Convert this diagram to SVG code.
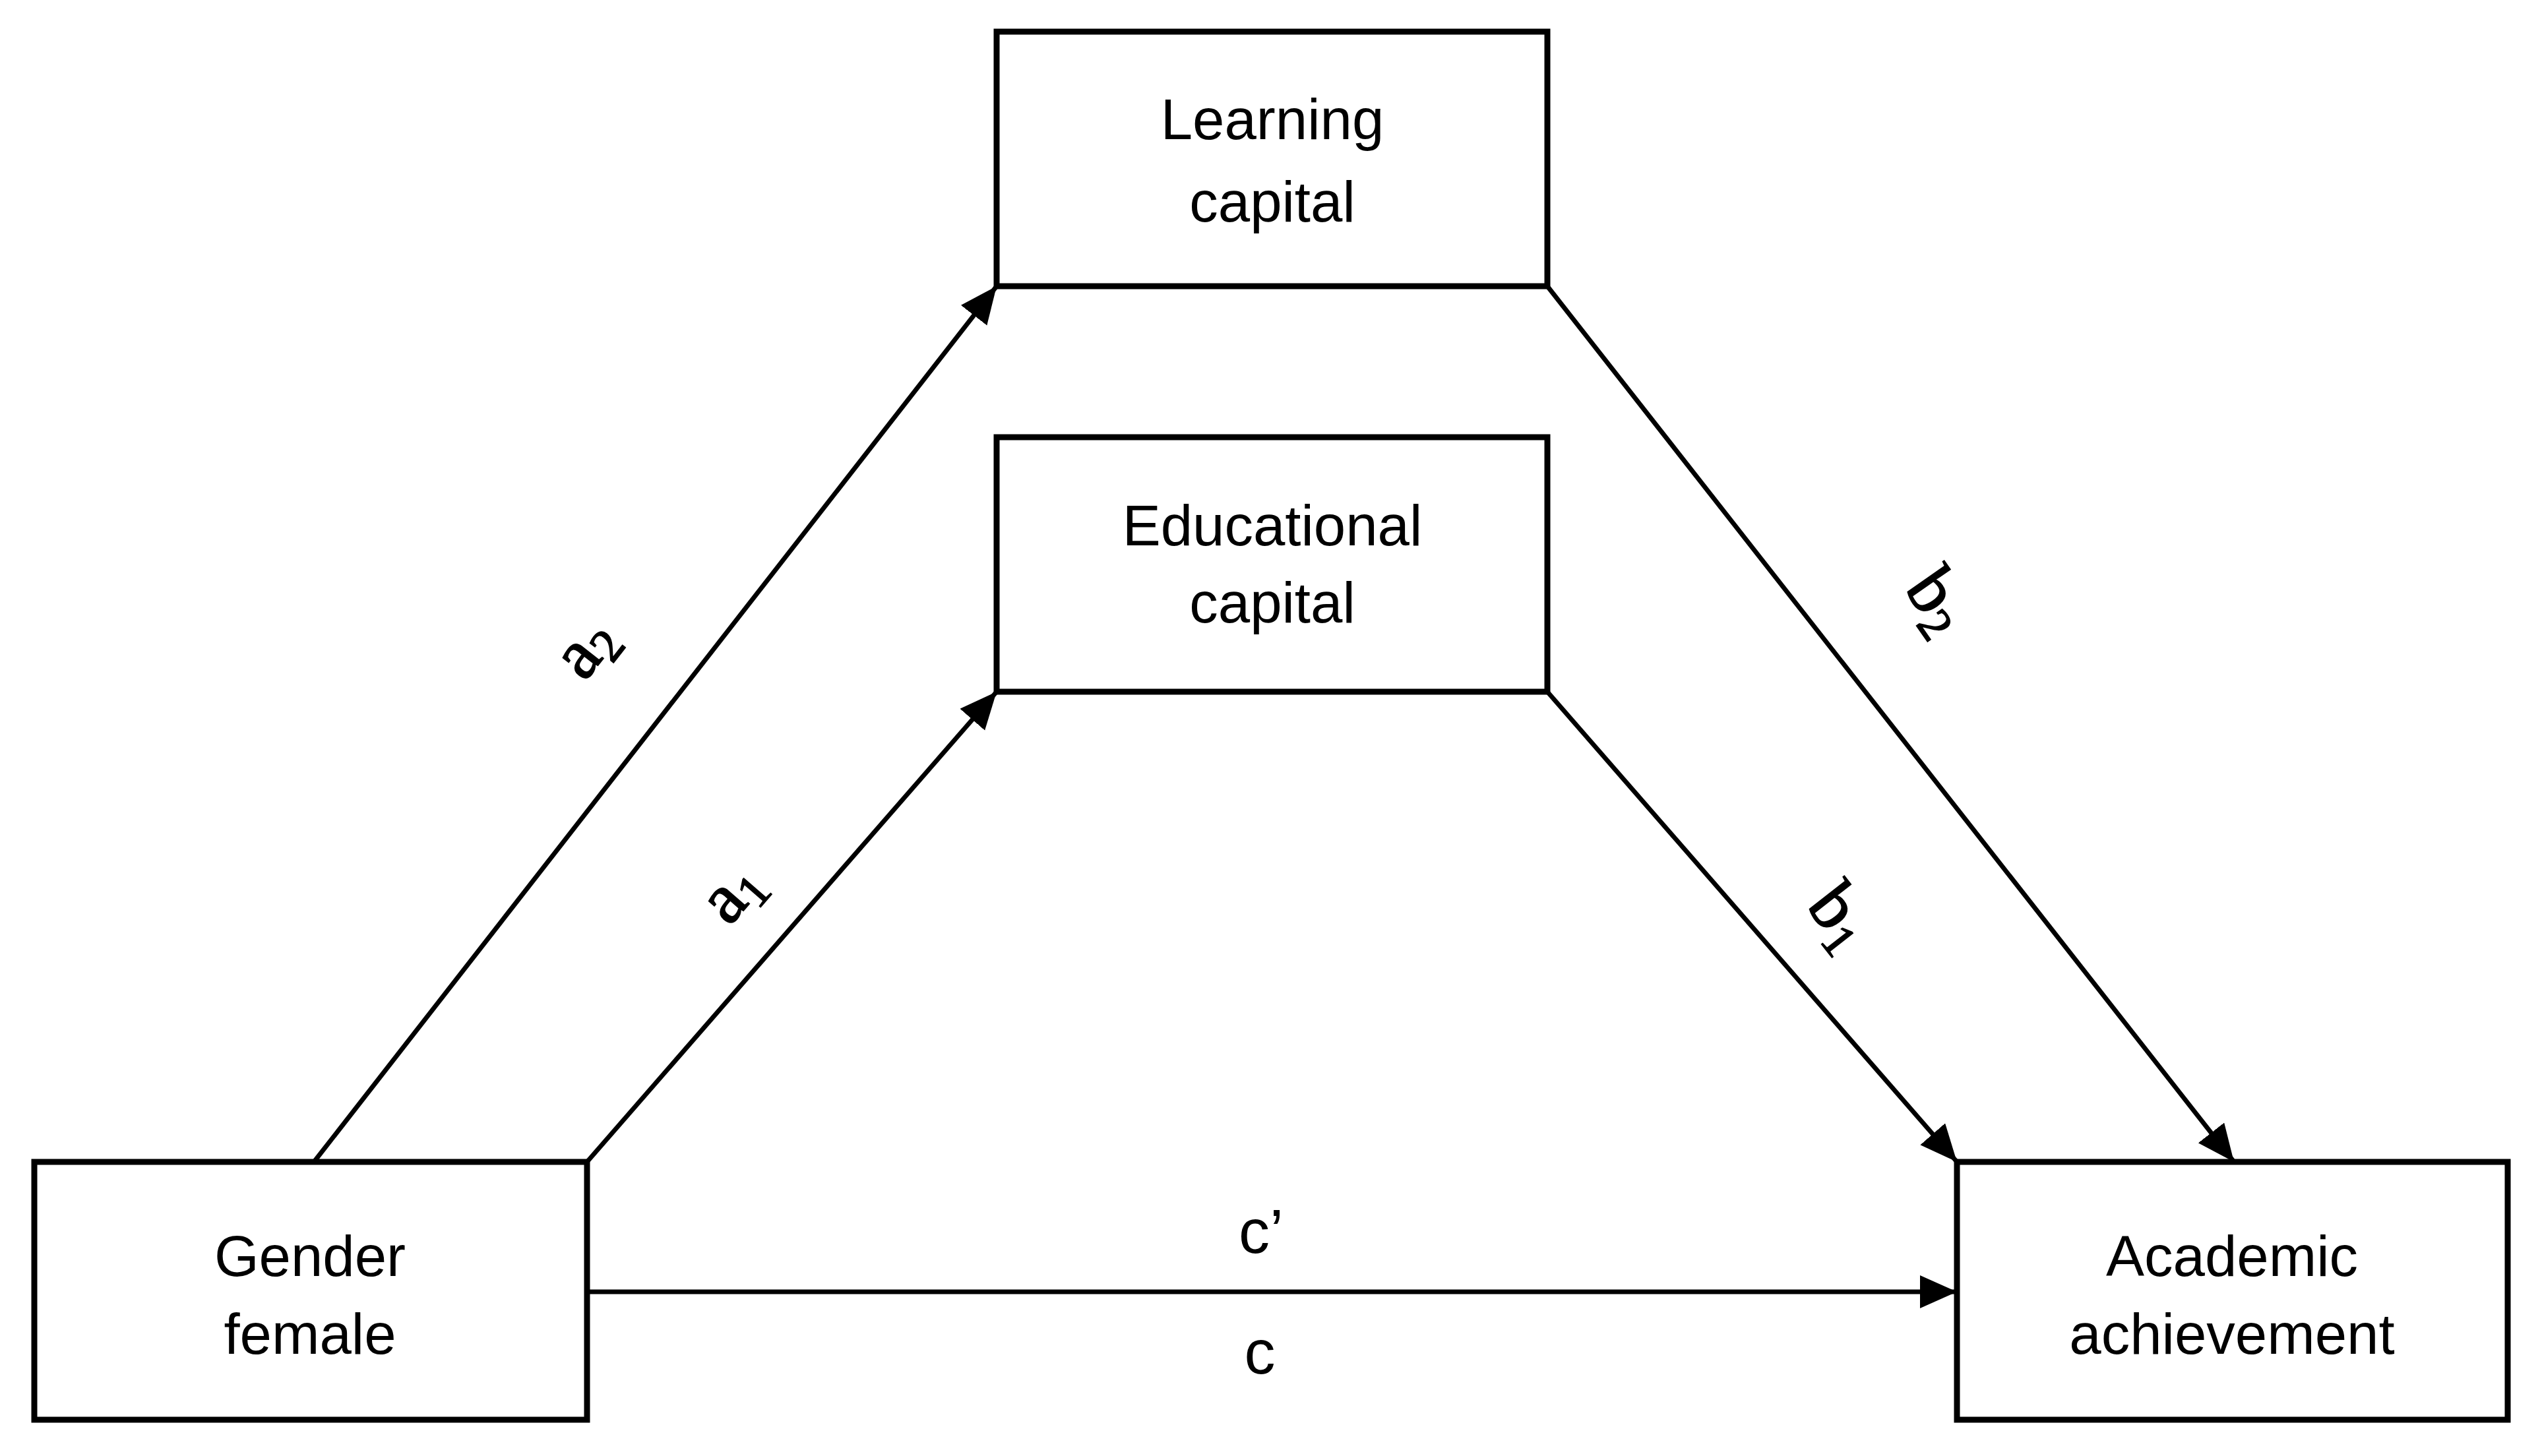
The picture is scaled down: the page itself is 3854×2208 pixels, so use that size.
<svg xmlns="http://www.w3.org/2000/svg" width="3854" height="2208" viewBox="0 0 3854 2208">
<style>
.box{fill:#fff;stroke:#000;stroke-width:9}
.lbl{font-family:"Liberation Sans",Arial,sans-serif;font-size:87px;fill:#000;text-anchor:middle}
.edge{stroke:#000;stroke-width:7;fill:none;marker-end:url(#arr)}
.path{font-family:"Liberation Serif","DejaVu Serif",serif;font-size:108px;fill:#000;stroke:#000;stroke-width:2;text-anchor:middle}
.cl{font-family:"Liberation Sans",Arial,sans-serif;font-size:94px;fill:#000;text-anchor:middle}
</style>
<defs>
<marker id="arr" markerUnits="userSpaceOnUse" markerWidth="60" markerHeight="52" refX="56" refY="25" orient="auto" viewBox="0 0 60 52">
<path d="M0,0 L56,25 L0,50 z" fill="#000"/>
</marker>
</defs>
<rect width="3854" height="2208" fill="#fff"/>
<g id="connectors">
<line class="edge" x1="476" y1="1762" x2="1511" y2="434"/>
<line class="edge" x1="890" y1="1762" x2="1511" y2="1049"/>
<line class="edge" x1="2346" y1="434" x2="3387" y2="1762"/>
<line class="edge" x1="2346" y1="1049" x2="2967" y2="1762"/>
<line class="edge" x1="890" y1="1959" x2="2967" y2="1959"/>
<text class="path" transform="translate(912,1002) rotate(-52)">a<tspan font-size="72" dy="16">2</tspan></text>
<text class="path" transform="translate(1133,1374) rotate(-49)">a<tspan font-size="72" dy="16">1</tspan></text>
<text class="path" transform="translate(2912,930) rotate(55)">b<tspan font-size="72" dy="16">2</tspan></text>
<text class="path" transform="translate(2765,1410) rotate(52)">b<tspan font-size="72" dy="16">1</tspan></text>
<text class="cl" x="1912" y="1900">c’</text>
<text class="cl" x="1910" y="2083">c</text>
</g>
<g id="learning-capital">
<rect class="box" x="1511" y="48" width="835" height="386"/>
<text class="lbl" x="1929" y="211">Learning</text>
<text class="lbl" x="1929" y="336">capital</text>
</g>
<g id="educational-capital">
<rect class="box" x="1511" y="663" width="835" height="386"/>
<text class="lbl" x="1929" y="827">Educational</text>
<text class="lbl" x="1929" y="944">capital</text>
</g>
<g id="gender-female">
<rect class="box" x="52" y="1762" width="838" height="391"/>
<text class="lbl" x="470" y="1935">Gender</text>
<text class="lbl" x="470" y="2053">female</text>
</g>
<g id="academic-achievement">
<rect class="box" x="2967" y="1762" width="835" height="391"/>
<text class="lbl" x="3384" y="1935">Academic</text>
<text class="lbl" x="3384" y="2053">achievement</text>
</g>
</svg>
